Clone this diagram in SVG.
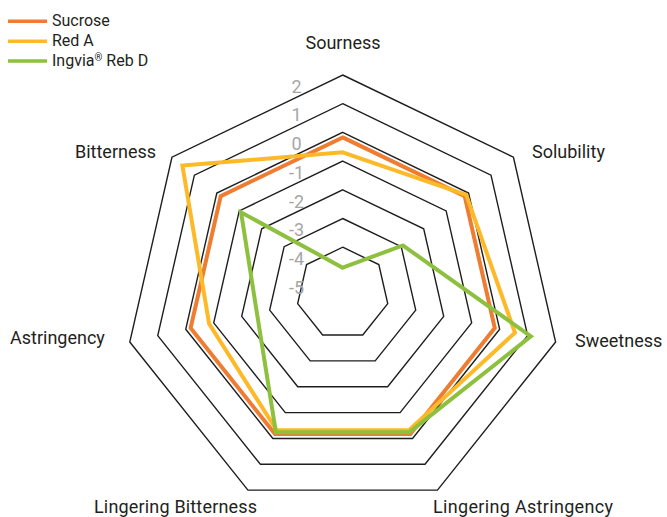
<svg xmlns="http://www.w3.org/2000/svg" width="667" height="517" viewBox="0 0 667 517">
<style>
  .ring{fill:none;stroke:#1e1e1e;stroke-width:1.4;stroke-linejoin:miter}
  .series{fill:none;stroke-width:4;stroke-linejoin:miter;stroke-miterlimit:10}
  .suc{stroke:#EE7D31}
  .reda{stroke:#FDB927}
  .reb{stroke:#8DC03F}
  .axis{font-family:Roboto,"Liberation Sans",sans-serif;font-size:18px;fill:#231F20}
  .tick{font-family:Roboto,"Liberation Sans",sans-serif;font-size:18px;fill:#A6A6A6;text-anchor:middle}
  .leg{font-family:Roboto,"Liberation Sans",sans-serif;font-size:16px;fill:#231F20}
</style>
<rect width="667" height="517" fill="#ffffff"/>

<g id="legend">
  <g id="legend-sucrose">
    <line class="suc" x1="8" y1="21.3" x2="47" y2="21.3" stroke-width="3.5"/>
    <text class="leg" x="52" y="26.3">Sucrose</text>
  </g>
  <g id="legend-reda">
    <line class="reda" x1="8" y1="41.3" x2="47" y2="41.3" stroke-width="3.5"/>
    <text class="leg" x="52" y="46.4">Red A</text>
  </g>
  <g id="legend-rebd">
    <line class="reb" x1="8" y1="61" x2="47" y2="61" stroke-width="3.5"/>
    <text class="leg" x="52" y="66">Ingvia<tspan font-size="10" dy="-5">®</tspan><tspan dy="5"> Reb D</tspan></text>
  </g>
</g>

<g id="grid" transform="translate(342.7,293.4)">
  <polygon class="ring" points="0,-218.4 170.75,-136.17 212.92,48.6 94.76,196.77 -94.76,196.77 -212.92,48.6 -170.75,-136.17"/>
  <polygon class="ring" points="0,-189.7 148.31,-118.28 184.94,42.21 82.31,170.91 -82.31,170.91 -184.94,42.21 -148.31,-118.28"/>
  <polygon class="ring" points="0,-161 125.87,-100.38 156.96,35.83 69.85,145.06 -69.85,145.06 -156.96,35.83 -125.87,-100.38"/>
  <polygon class="ring" points="0,-132.3 103.44,-82.49 128.98,29.44 57.4,119.2 -57.4,119.2 -128.98,29.44 -103.44,-82.49"/>
  <polygon class="ring" points="0,-103.6 81,-64.59 101,23.05 44.95,93.34 -44.95,93.34 -101,23.05 -81,-64.59"/>
  <polygon class="ring" points="0,-74.9 58.56,-46.7 73.02,16.67 32.5,67.48 -32.5,67.48 -73.02,16.67 -58.56,-46.7"/>
  <polygon class="ring" points="0,-46.2 36.12,-28.81 45.04,10.28 20.05,41.62 -20.05,41.62 -45.04,10.28 -36.12,-28.81"/>
</g>

<g id="ticks">
  <text class="tick" x="296.5" y="92.7">2</text>
  <text class="tick" x="296.5" y="121.4">1</text>
  <text class="tick" x="296.5" y="150.1">0</text>
  <text class="tick" x="296.5" y="178.8">-1</text>
  <text class="tick" x="296.5" y="207.5">-2</text>
  <text class="tick" x="296.5" y="236.2">-3</text>
  <text class="tick" x="296.5" y="264.9">-4</text>
  <text class="tick" x="296.5" y="293.6">-5</text>
</g>

<g id="connectors" transform="translate(342.7,293.4)">
  <polygon id="series-sucrose" class="series suc" points="0,-156 121.97,-97.26 152.09,34.71 67.69,140.55 -67.69,140.55 -152.09,34.71 -121.97,-97.26"/>
  <polygon id="series-reda" class="series reda" points="0,-141.1 123.53,-98.51 172.27,39.32 65.95,136.95 -65.95,136.95 -133.57,30.49 -160.28,-127.82"/>
  <polygon id="series-rebd" class="series reb" points="0,-25.7 60.2,-48.01 188.16,42.95 66.82,138.75 -66.82,138.75 -85.79,19.58 -101.64,-81.05"/>
</g>

<g id="axis-labels">
  <g id="label-sourness"><text class="axis" x="343" y="49" text-anchor="middle">Sourness</text></g>
  <g id="label-solubility"><text class="axis" x="532" y="158">Solubility</text></g>
  <g id="label-sweetness"><text class="axis" x="575" y="347">Sweetness</text></g>
  <g id="label-lingering-astringency"><text class="axis" x="433" y="513" textLength="180" lengthAdjust="spacing">Lingering Astringency</text></g>
  <g id="label-lingering-bitterness"><text class="axis" x="94" y="513" textLength="163" lengthAdjust="spacing">Lingering Bitterness</text></g>
  <g id="label-astringency"><text class="axis" x="10" y="344">Astringency</text></g>
  <g id="label-bitterness"><text class="axis" x="75" y="158">Bitterness</text></g>
</g>
</svg>
